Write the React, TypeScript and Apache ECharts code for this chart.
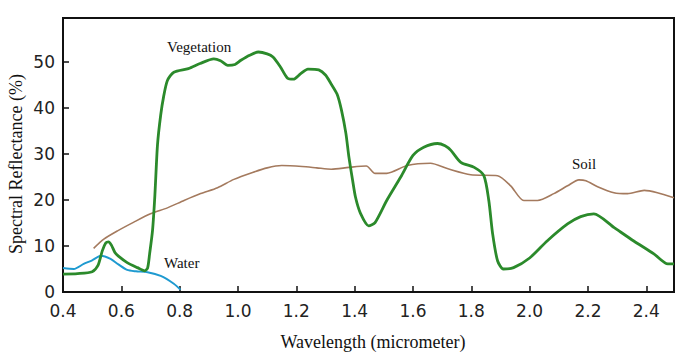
import React, { useEffect, useRef } from "react";
import * as echarts from "echarts";

const xTicks = [0.4, 0.6, 0.8, 1.0, 1.2, 1.4, 1.6, 1.8, 2.0, 2.2, 2.4];
const yTicks = [0, 10, 20, 30, 40, 50];

const vegetation: [number, number][] = [
  [0.40, 3.9], [0.45, 4.0], [0.50, 4.4], [0.52, 5.8], [0.535, 9.0], [0.547, 10.7],
  [0.556, 10.9], [0.566, 10.2], [0.578, 8.6], [0.59, 7.8], [0.62, 6.4], [0.655, 5.3],
  [0.68, 4.6], [0.69, 5.2], [0.697, 8.3], [0.707, 13.4], [0.715, 21], [0.724, 32],
  [0.735, 38.5], [0.745, 42.5], [0.758, 46], [0.78, 47.8], [0.83, 48.6], [0.87, 49.7],
  [0.917, 50.7], [0.94, 50.3], [0.965, 49.3], [0.99, 49.5], [1.01, 50.4], [1.04, 51.5],
  [1.07, 52.2], [1.10, 51.8], [1.12, 51.1], [1.145, 49], [1.17, 46.5], [1.19, 46.3],
  [1.215, 47.5], [1.24, 48.5], [1.277, 48.3], [1.30, 47.2], [1.318, 45.4], [1.34, 43],
  [1.355, 39.5], [1.37, 34.5], [1.38, 29.5], [1.393, 24.3], [1.403, 20.6], [1.42, 17.1],
  [1.448, 14.4], [1.47, 15.1], [1.51, 19.9], [1.558, 25], [1.60, 29.7], [1.637, 31.5],
  [1.684, 32.3], [1.71, 31.8], [1.73, 30.8], [1.764, 28.2], [1.81, 27.1], [1.843, 25.3],
  [1.86, 19.9], [1.873, 12.7], [1.89, 6.8], [1.91, 5.0], [1.945, 5.3], [2.0, 7.4],
  [2.06, 11.1], [2.13, 14.8], [2.175, 16.4], [2.22, 17.0], [2.29, 14], [2.357, 11.1],
  [2.426, 8.3], [2.474, 6.1], [2.495, 6.1],
];

const soil: [number, number][] = [
  [0.505, 9.5], [0.54, 11.5], [0.587, 13.3], [0.643, 15.2], [0.70, 17], [0.758, 18.3],
  [0.815, 19.9], [0.872, 21.4], [0.93, 22.7], [0.986, 24.5], [1.05, 26], [1.10, 27],
  [1.15, 27.5], [1.22, 27.3], [1.27, 27.0], [1.32, 26.7], [1.38, 27.1], [1.44, 27.4],
  [1.47, 25.8], [1.51, 25.8], [1.58, 27.5], [1.66, 28.0], [1.72, 26.8], [1.798, 25.5],
  [1.89, 25.3], [1.935, 23.1], [1.98, 19.9], [2.027, 19.9], [2.083, 21.4], [2.13, 23.1],
  [2.169, 24.4], [2.193, 24.2], [2.233, 22.9], [2.289, 21.6], [2.336, 21.4], [2.393, 22.1],
  [2.438, 21.6], [2.495, 20.5],
];

const water: [number, number][] = [
  [0.40, 5.2], [0.437, 5.0], [0.471, 6.1], [0.50, 6.9], [0.53, 7.9], [0.563, 7.2],
  [0.59, 6.0], [0.62, 4.8], [0.65, 4.5], [0.69, 4.3], [0.735, 3.5], [0.78, 1.8],
  [0.803, 0.5],
];

const seriesNames = ["Vegetation", "Soil", "Water"];
const xTitle = "Wavelength (micrometer)";
const yTitle = "Spectral Reflectance (%)";

const isTick = (v: number, ticks: number[]) => ticks.some((t) => Math.abs(t - v) < 1e-6);

export default function App() {
  const ref = useRef<HTMLDivElement>(null);
  useEffect(() => {
    if (!ref.current) return;
    const chart = echarts.init(ref.current, null, { renderer: "svg" });
    const labelFont = "'DejaVu Sans', sans-serif";
    const serif = "'Liberation Serif', 'Times New Roman', serif";
    chart.setOption({
      animation: false,
      backgroundColor: "#ffffff",
      grid: {
        left: 63,
        top: 18,
        right: 14,
        bottom: 65,
        show: true,
        borderColor: "#111",
        borderWidth: 2,
        backgroundColor: "transparent",
      },
      xAxis: {
        type: "value",
        min: 0.4,
        max: 2.495,
        interval: 0.2,
        splitLine: { show: false },
        axisLine: { show: true, lineStyle: { color: "#111", width: 2 } },
        axisTick: { show: true, inside: true, length: 6, lineStyle: { color: "#111", width: 1.5 } },
        axisLabel: {
          color: "#222",
          fontFamily: labelFont,
          fontSize: 17,
          margin: 10,
          formatter: (v: number) => (isTick(v, xTicks) ? v.toFixed(1) : ""),
        },
      },
      yAxis: {
        type: "value",
        min: 0,
        max: 59.6,
        interval: 10,
        splitLine: { show: false },
        axisLine: { show: true, lineStyle: { color: "#111", width: 2 } },
        axisTick: { show: true, inside: true, length: 6, lineStyle: { color: "#111", width: 1.5 } },
        axisLabel: {
          color: "#222",
          fontFamily: labelFont,
          fontSize: 17,
          margin: 8,
          formatter: (v: number) => (isTick(v, yTicks) ? String(v) : ""),
        },
      },
      series: [
        {
          name: seriesNames[0],
          type: "line",
          data: vegetation,
          showSymbol: false,
          smooth: 0.25,
          lineStyle: { color: "#2b8a2b", width: 2.8 },
          z: 3,
        },
        {
          name: seriesNames[1],
          type: "line",
          data: soil,
          showSymbol: false,
          smooth: 0.25,
          lineStyle: { color: "#a47a5e", width: 1.6 },
          z: 2,
        },
        {
          name: seriesNames[2],
          type: "line",
          data: water,
          showSymbol: false,
          smooth: 0.25,
          lineStyle: { color: "#1e9ad0", width: 2 },
          z: 2,
        },
      ],
      graphic: [
        {
          type: "text",
          x: 16,
          y: 164,
          rotation: Math.PI / 2,
          style: {
            text: yTitle,
            font: `18px ${serif}`,
            fill: "#111",
            align: "center",
            verticalAlign: "middle",
          },
        },
        {
          type: "text",
          x: 373,
          y: 342,
          style: {
            text: xTitle,
            font: `18px ${serif}`,
            fill: "#111",
            align: "center",
            verticalAlign: "middle",
          },
        },
        {
          type: "text",
          x: 167,
          y: 47,
          style: { text: seriesNames[0], font: `15px ${serif}`, fill: "#111", align: "left", verticalAlign: "middle" },
        },
        {
          type: "text",
          x: 572,
          y: 164,
          style: { text: seriesNames[1], font: `15px ${serif}`, fill: "#111", align: "left", verticalAlign: "middle" },
        },
        {
          type: "text",
          x: 164,
          y: 263,
          style: { text: seriesNames[2], font: `15px ${serif}`, fill: "#111", align: "left", verticalAlign: "middle" },
        },
      ],
    });
    return () => chart.dispose();
  }, []);
  return (
    <div
      ref={ref}
      style={{ position: "fixed", left: 0, top: 0, width: 688, height: 357, background: "#fff" }}
    />
  );
}
